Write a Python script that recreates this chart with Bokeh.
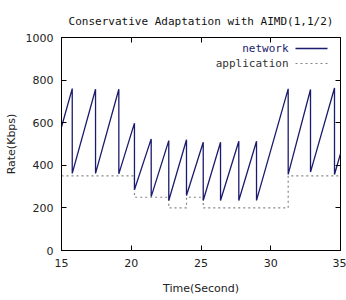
from bokeh.plotting import figure
from bokeh.models import LinearAxis, FixedTicker, Label, Arrow, Range1d
from bokeh.embed import file_html
from bokeh.resources import INLINE

# ---- data ----
net_t = [15.0, 15.77, 15.77, 17.44, 17.44, 19.11, 19.11, 20.23, 20.23, 21.43, 21.43,
         22.69, 22.69, 23.96, 23.96, 25.16, 25.16, 26.40, 26.40, 27.71, 27.71,
         28.98, 28.98, 31.25, 31.25, 32.85, 32.85, 34.57, 34.57, 35.0]
net_r = [580, 760, 362, 757, 362, 757, 360, 598, 285, 524, 253,
         516, 235, 520, 258, 508, 235, 508, 235, 513, 235,
         513, 235, 759, 357, 756, 368, 763, 357, 455]

app_t = [15.0, 20.23, 22.69, 23.96, 25.16, 31.25, 35.0]
app_r = [350, 250, 200, 250, 200, 350, 350]

x_ticks = [15, 20, 25, 30, 35]
y_ticks = [0, 200, 400, 600, 800, 1000]

title_text = "Conservative Adaptation with AIMD(1,1/2)"
x_label = "Time(Second)"
y_label = "Rate(Kbps)"
series_names = ["network", "application"]

NET_COLOR = "#1b1b6e"
APP_COLOR = "#858585"
MONO = "DejaVu Sans Mono"
SANS = "DejaVu Sans"

p = figure(width=346, height=300, output_backend="svg", toolbar_location=None,
           x_range=Range1d(15, 35), y_range=Range1d(0, 1000),
           min_border_left=61, min_border_top=37, min_border_right=6,
           min_border_bottom=50)

p.title.text = title_text
p.title.text_font = MONO
p.title.text_font_size = "11px"
p.title.text_font_style = "normal"
p.title.align = "center"
p.title.text_color = "#111111"
p.title.standoff = 20

p.xgrid.visible = False
p.ygrid.visible = False
p.outline_line_color = "black"
p.outline_line_width = 1
p.background_fill_color = "white"
p.border_fill_color = "white"

for ax, ticks in ((p.xaxis[0], x_ticks), (p.yaxis[0], y_ticks)):
    ax.ticker = FixedTicker(ticks=ticks)
    ax.major_tick_in = 5
    ax.major_tick_out = 0
    ax.minor_tick_line_color = None
    ax.axis_line_color = "black"
    ax.major_tick_line_color = "black"
    ax.major_label_text_font = SANS
    ax.major_label_text_font_size = "11px"
    ax.major_label_text_color = "#222222"
    ax.axis_label_text_font = SANS
    ax.axis_label_text_font_size = "11px"
    ax.axis_label_text_font_style = "normal"
    ax.axis_label_text_color = "#222222"

p.xaxis[0].axis_label = x_label
p.yaxis[0].axis_label = y_label
p.xaxis[0].major_label_standoff = 8
p.xaxis[0].axis_label_standoff = 12
p.yaxis[0].major_label_standoff = 8
p.yaxis[0].axis_label_standoff = 5

# mirror ticks on top and right (no labels)
right = LinearAxis(ticker=FixedTicker(ticks=y_ticks), major_label_text_font_size="1px",
                   major_label_text_color=None,
                   major_tick_in=5, major_tick_out=0, axis_line_color=None,
                   minor_tick_line_color=None, major_label_standoff=0,
                   major_tick_line_color="black")
top = LinearAxis(ticker=FixedTicker(ticks=x_ticks), major_label_text_font_size="1px",
                 major_label_text_color=None,
                 major_tick_in=5, major_tick_out=0, axis_line_color=None,
                 minor_tick_line_color=None, major_label_standoff=0,
                 major_tick_line_color="black")
p.add_layout(right, "right")
p.add_layout(top, "above")

# series
p.step(app_t, app_r, mode="after", line_color=APP_COLOR, line_width=1.2, line_dash="2 3")
p.line(net_t, net_r, line_color=NET_COLOR, line_width=1.3)

# gnuplot-style key: text on the left, sample on the right (screen units, frame-relative)
p.add_layout(Label(x=227, y=202, x_units="screen", y_units="screen", text=series_names[0],
                   text_font=MONO, text_font_size="11px", text_align="right",
                   text_baseline="middle", text_color="#1b1b6e"))
p.add_layout(Label(x=227, y=187, x_units="screen", y_units="screen", text=series_names[1],
                   text_font=MONO, text_font_size="11px", text_align="right",
                   text_baseline="middle", text_color="#333333"))
p.add_layout(Arrow(end=None, x_start=234, y_start=202, x_end=266, y_end=202,
                   start_units="screen", end_units="screen",
                   line_color=NET_COLOR, line_width=1.3))
p.add_layout(Arrow(end=None, x_start=234, y_start=187, x_end=266, y_end=187,
                   start_units="screen", end_units="screen",
                   line_color=APP_COLOR, line_width=1.2, line_dash="2 3"))

open("out.html", "w").write(file_html(p, INLINE))
